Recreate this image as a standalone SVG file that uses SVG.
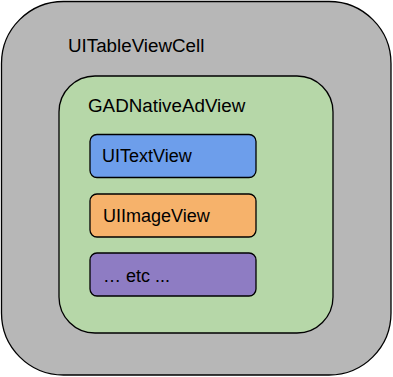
<svg xmlns="http://www.w3.org/2000/svg" width="393" height="377" viewBox="0 0 393 377">
<style>
rect{stroke:#000;stroke-width:1.3}
text{font-family:"Liberation Sans",sans-serif;font-size:18px;fill:#000}
text.big{font-size:18.8px}
</style>
<g id="cell"><rect x="1.5" y="1.5" width="389.5" height="373.5" rx="62" fill="#b7b7b7"/><text class="big" x="68" y="52">UITableViewCell</text></g>
<g id="adview"><rect x="59" y="76" width="274" height="257" rx="36" fill="#b6d7a8"/><text class="big" x="88" y="112">GADNativeAdView</text></g>
<g id="textview"><rect x="90" y="134.5" width="166" height="43" rx="7" fill="#6d9eeb"/><text x="102" y="162">UITextView</text></g>
<g id="imageview"><rect x="90" y="194" width="166" height="43" rx="7" fill="#f6b26b"/><text x="103" y="222">UIImageView</text></g>
<g id="etc"><rect x="90" y="253" width="166" height="43" rx="7" fill="#8e7cc3"/><text x="103" y="282">… etc ...</text></g>
<g id="connectors"/>
</svg>
